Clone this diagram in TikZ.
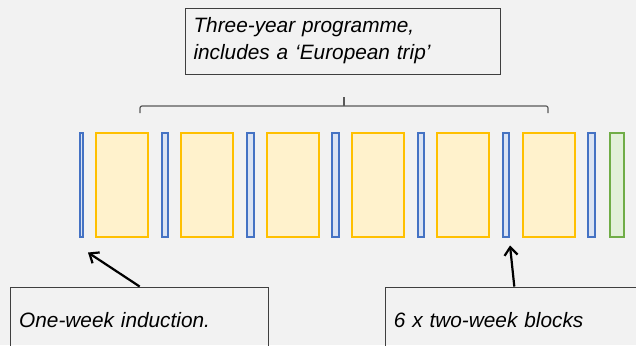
\documentclass[tikz,border=0pt]{standalone}
\usepackage{fontspec}
\setmainfont{Liberation Sans}
\usepackage{tikz}
\usetikzlibrary{arrows.meta, positioning, calc}
\definecolor{bggrey}{HTML}{F2F2F2}
\definecolor{wkblue}{HTML}{4472C4}
\definecolor{wkbluefill}{HTML}{DAE3F3}
\definecolor{blkgold}{HTML}{FFC000}
\definecolor{blkgoldfill}{HTML}{FFF2CC}
\definecolor{endgreen}{HTML}{70AD47}
\definecolor{endgreenfill}{HTML}{E2F0D9}
\definecolor{boxline}{HTML}{3F3F3F}

\begin{document}
\begin{tikzpicture}[x=1pt, y=-1pt,
    every node/.style={font=\itshape\fontsize{20.8}{27}\selectfont},
    bar/.style={draw, line width=2pt, minimum height=104pt, inner sep=0pt},
    wkbar/.style={bar, draw=wkblue, fill=wkbluefill, minimum width=6.5pt},
    blkbar/.style={bar, draw=blkgold, fill=blkgoldfill, minimum width=52pt},
    callout/.style={draw=boxline, line width=0.9pt, align=left, inner xsep=8.5pt, minimum height=66pt},
    pointer/.style={-{Straight Barb[length=8pt, width=13pt]}, line width=2.2pt}]
    % Background
    \fill[bggrey] (0,0) rectangle (636,345);
    \useasboundingbox (0,0) rectangle (636,345);
    % Induction week
    \node[wkbar, minimum width=2.5pt] (ind) at (81.5,185) {};
    % Blocks and weeks
    \foreach \i in {0,...,5} {
        \node[blkbar] (blk\i) at (122+85.3*\i,185) {};
        \node[wkbar] (wk\i) at (165+85.3*\i,185) {};
    }
    \node[bar, draw=endgreen, fill=endgreenfill, minimum width=14pt] (fin) at (617,185) {};
    % Bracket
    \draw[black!65, line width=1.2pt, rounded corners=2pt] (140,113) -- (140,106) -- (548,106) -- (548,113);
    \draw[black!65, line width=1.2pt] (344,106) -- (344,97);
    % Notes
    \node[callout, text width=298pt] (prog) at (342.5,41) {Three-year programme,\\includes a `European trip'};
    \node[callout, text width=241pt] (indnote) at (139.7,320) {One-week induction.};
    \node[callout, text width=241pt] (blknote) at (514.3,320) {6 x two-week blocks};
    % Pointers
    \coordinate (indtip) at ($(ind.south)+(6.5,14.5)$);
    \coordinate (blktip) at ($(wk4.south)+(3.8,7.5)$);
    \draw[pointer] (indnote.north) -- (indtip);
    \draw[pointer] (blknote.north) -- (blktip);
\end{tikzpicture}
\end{document}
